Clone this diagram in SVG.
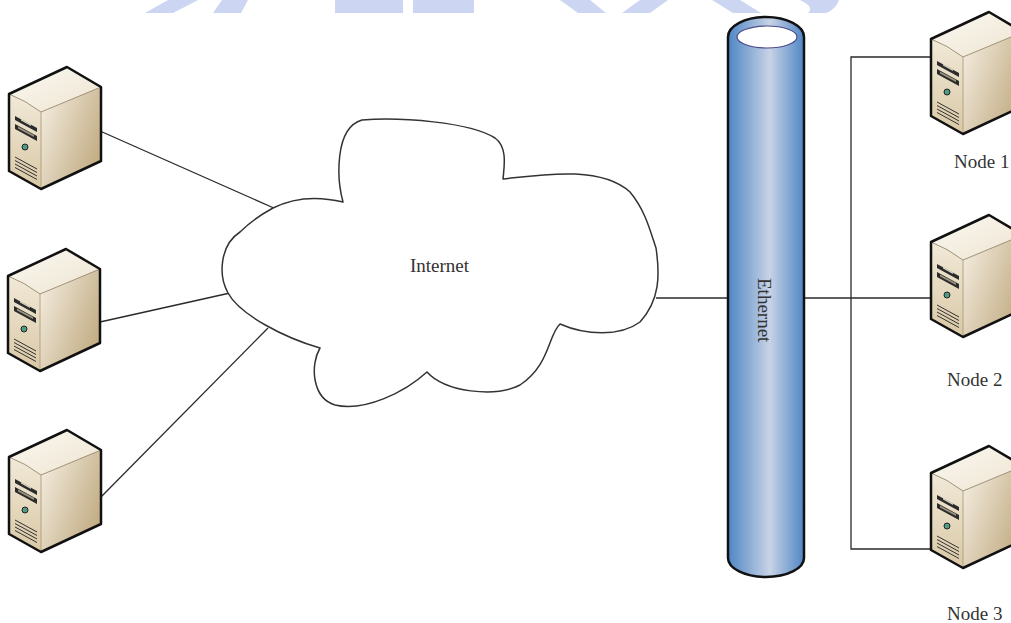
<svg xmlns="http://www.w3.org/2000/svg" xmlns:xlink="http://www.w3.org/1999/xlink" width="1011" height="623" viewBox="0 0 1011 623">
  <style>
    .wire { fill: none; stroke: #2a2a2a; stroke-width: 1.3; }
    .label { font-family: "Liberation Serif", "Times New Roman", serif; font-size: 19px; fill: #333; }
    .cloud { fill: #fff; stroke: #333; stroke-width: 1.5; stroke-linejoin: round; }
    .mark { fill: #bfcbee; opacity: 0.8; }
  </style>
  <defs>
    <linearGradient id="pipe" x1="0" y1="0" x2="1" y2="0">
      <stop offset="0" stop-color="#4f86c4"/>
      <stop offset="0.55" stop-color="#c8d3e6"/>
      <stop offset="1" stop-color="#4f86c4"/>
    </linearGradient>
    <linearGradient id="srvTop" x1="0" y1="0" x2="1" y2="1">
      <stop offset="0" stop-color="#fbf8f1"/>
      <stop offset="1" stop-color="#eee5d2"/>
    </linearGradient>
    <linearGradient id="srvFront" x1="0" y1="0" x2="0" y2="1">
      <stop offset="0" stop-color="#f1e9d8"/>
      <stop offset="1" stop-color="#d9c8a5"/>
    </linearGradient>
    <linearGradient id="srvSide" x1="0" y1="0" x2="1" y2="0.6">
      <stop offset="0" stop-color="#f6f0e4"/>
      <stop offset="1" stop-color="#c3ae86"/>
    </linearGradient>
    <!-- tower server icon, 92 x 122 -->
    <g id="srv">
      <path d="M32,45 L92,20 L92,94 L32,122 Z" fill="url(#srvSide)"/>
      <path d="M0,27 Q16,33 32,45 L32,122 L0,104 Z" fill="url(#srvFront)"/>
      <path d="M0,27 L58,0 L92,20 L32,45 Q16,33 0,27 Z" fill="url(#srvTop)"/>
      <path d="M0,27 Q16,33 32,45 L92,20" fill="none" stroke="#8a7a5c" stroke-width="0.8"/>
      <line x1="32" y1="45" x2="32" y2="122" stroke="#a89574" stroke-width="0.8"/>
      <!-- drive bays -->
      <path d="M6,49 L28,61 L28,65 L6,53 Z" fill="#2b2b2b"/>
      <path d="M12,52 L22,57.5 L22,59 L12,53.5 Z" fill="#d9d2c2"/>
      <path d="M6,57 L28,69 L28,74 L6,62 Z" fill="#2b2b2b"/>
      <path d="M9,59.5 L25,68 L25,70 L9,61.5 Z" fill="#9d9380"/>
      <!-- power light -->
      <circle cx="16" cy="80" r="3" fill="#4f9c84" stroke="#222" stroke-width="1"/>
      <!-- vents -->
      <g stroke="#333" stroke-width="1">
        <line x1="6" y1="90" x2="28" y2="102"/>
        <line x1="6" y1="93.5" x2="28" y2="105.5"/>
        <line x1="6" y1="97" x2="28" y2="109"/>
        <line x1="6" y1="100.5" x2="28" y2="112.5"/>
      </g>
      <path d="M0,27 L58,0 L92,20 L92,94 L32,122 L0,104 Z" fill="none" stroke="#111" stroke-width="2.5" stroke-linejoin="round"/>
    </g>
  </defs>

  <rect width="1011" height="623" fill="#fff"/>

  <!-- faint emblem along the top edge -->
  <g id="emblem">
    <polygon class="mark" points="168,0 198,0 173,13 145,13"/>
    <polygon class="mark" points="222,0 248,0 241,13 213,13"/>
    <rect class="mark" x="335" y="0" width="68" height="13"/>
    <rect class="mark" x="413" y="0" width="61" height="13"/>
    <polygon class="mark" points="560,0 590,0 606,13 578,13"/>
    <polygon class="mark" points="640,0 668,0 650,13 622,13"/>
    <polygon class="mark" points="712,0 740,0 761,13 733,13"/>
    <path class="mark" d="M800,0 L839,0 Q836,9 826,13 L808,13 Q815,7 800,0 Z"/>
  </g>

  <!-- connectors -->
  <g id="connectors">
    <line class="wire" x1="100" y1="131" x2="276" y2="209"/>
    <line class="wire" x1="100" y1="322" x2="230" y2="293"/>
    <line class="wire" x1="100" y1="498" x2="268" y2="328"/>
    <line class="wire" x1="656" y1="298" x2="729" y2="298"/>
    <line class="wire" x1="803" y1="298" x2="934" y2="298"/>
    <polyline class="wire" points="936,57 851,57 851,549 936,549"/>
  </g>

  <g id="internet">
    <path class="cloud" d="M273,208 C293,198 318,196 343,202
      C337,180 334,128 362,120
      C400,117 470,122 495,138
      C508,147 504,168 503,179
      C540,175 600,165 630,192
      C645,210 650,230 656,248
      C660,275 660,300 640,322
      C620,337 585,335 560,324
      C548,335 550,365 520,385
      C495,398 445,392 427,372
      C405,392 365,412 335,405
      C312,398 310,365 320,348
      C285,338 240,315 228,293
      C218,275 220,245 240,232
      C250,222 262,214 273,208 Z"/>
    <text class="label" x="410" y="272">Internet</text>
  </g>

  <g id="ethernet">
    <path d="M728,37 A38,20 0 0 1 804,37 L804,558 A38,19 0 0 1 728,558 Z" fill="url(#pipe)" stroke="#111" stroke-width="2.5"/>
    <ellipse cx="767" cy="37" rx="30" ry="11" fill="#fff" stroke="#4a4a8c" stroke-width="1.2"/>
    <text class="label" transform="translate(758,278) rotate(90)">Ethernet</text>
  </g>

  <g id="client-1"><use xlink:href="#srv" x="9" y="67"/></g>
  <g id="client-2"><use xlink:href="#srv" x="8" y="249"/></g>
  <g id="client-3"><use xlink:href="#srv" x="9" y="430"/></g>

  <g id="node-1">
    <use xlink:href="#srv" x="931" y="12"/>
    <text class="label" x="954" y="168">Node 1</text>
  </g>
  <g id="node-2">
    <use xlink:href="#srv" x="931" y="215"/>
    <text class="label" x="947" y="386">Node 2</text>
  </g>
  <g id="node-3">
    <use xlink:href="#srv" x="931" y="446"/>
    <text class="label" x="947" y="620">Node 3</text>
  </g>
</svg>
